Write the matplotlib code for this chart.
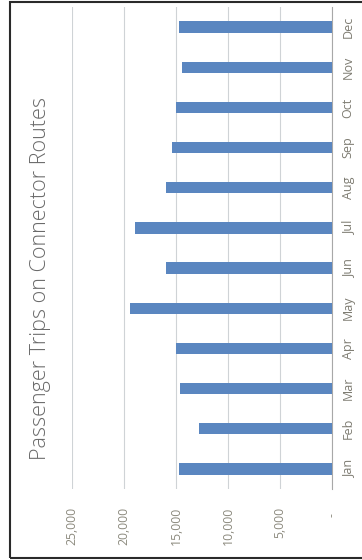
import matplotlib
matplotlib.use("Agg")
import matplotlib.pyplot as plt
from matplotlib.patches import Rectangle
from matplotlib.ticker import FuncFormatter

months = ["Jan", "Feb", "Mar", "Apr", "May", "Jun", "Jul", "Aug", "Sep", "Oct", "Nov", "Dec"]
trips = [14700, 12800, 14600, 15000, 19400, 16000, 18900, 16000, 15400, 15000, 14400, 14700]
value_ticks = [0, 5000, 10000, 15000, 20000, 25000]
title = "Passenger Trips on Connector Routes"

W, H = 362, 560
plt.rcParams['font.family'] = ['Open Sans', 'DejaVu Sans']
fig = plt.figure(figsize=(W / 100, H / 100), dpi=100)
fig.patch.set_facecolor("white")

# axes in pixel geometry
left, right, top, bottom = 72, 332, 7, 489
ax = fig.add_axes([left / W, 1 - bottom / H, (right - left) / W, (bottom - top) / H])

ypos = list(range(len(months)))
ax.barh(ypos, trips, height=0.28, color="#5a86c0", zorder=3)
ax.set_xlim(0, 25000)
ax.invert_xaxis()
ax.set_ylim(-0.5, len(months) - 0.5)

ax.set_xticks(value_ticks)
ax.xaxis.set_major_formatter(FuncFormatter(lambda v, p: "-  " if v == 0 else f"{int(v):,}"))
ax.tick_params(axis="x", length=0, pad=13, labelsize=8.8, labelcolor="#8c8a7e", labelrotation=90)

ax.yaxis.tick_right()
ax.set_yticks(ypos)
ax.set_yticklabels(months)
ax.tick_params(axis="y", length=0, pad=7, labelsize=9, labelcolor="#7e7c72")
for lab in ax.get_yticklabels():
    lab.set_rotation(90)
    lab.set_va("center")

ax.grid(axis="x", color="#cfd3d6", linewidth=0.8, zorder=0)
for s in ["top", "left", "bottom"]:
    ax.spines[s].set_visible(False)
ax.spines["right"].set_color("#a8a8a8")
ax.spines["right"].set_linewidth(0.8)

fig.text(41 / W, 1 - 279 / H, title, rotation=90, ha="center", va="center",
         fontsize=15.5, color="#6a6a6a", fontweight="light")

fig.patches.append(Rectangle((10 / W, 1 - 558 / H), (W + 10) / W, 556.5 / H,
                             transform=fig.transFigure, fill=False,
                             edgecolor="#2a2a2a", linewidth=1.5))

fig.savefig("out.png", dpi=100)
